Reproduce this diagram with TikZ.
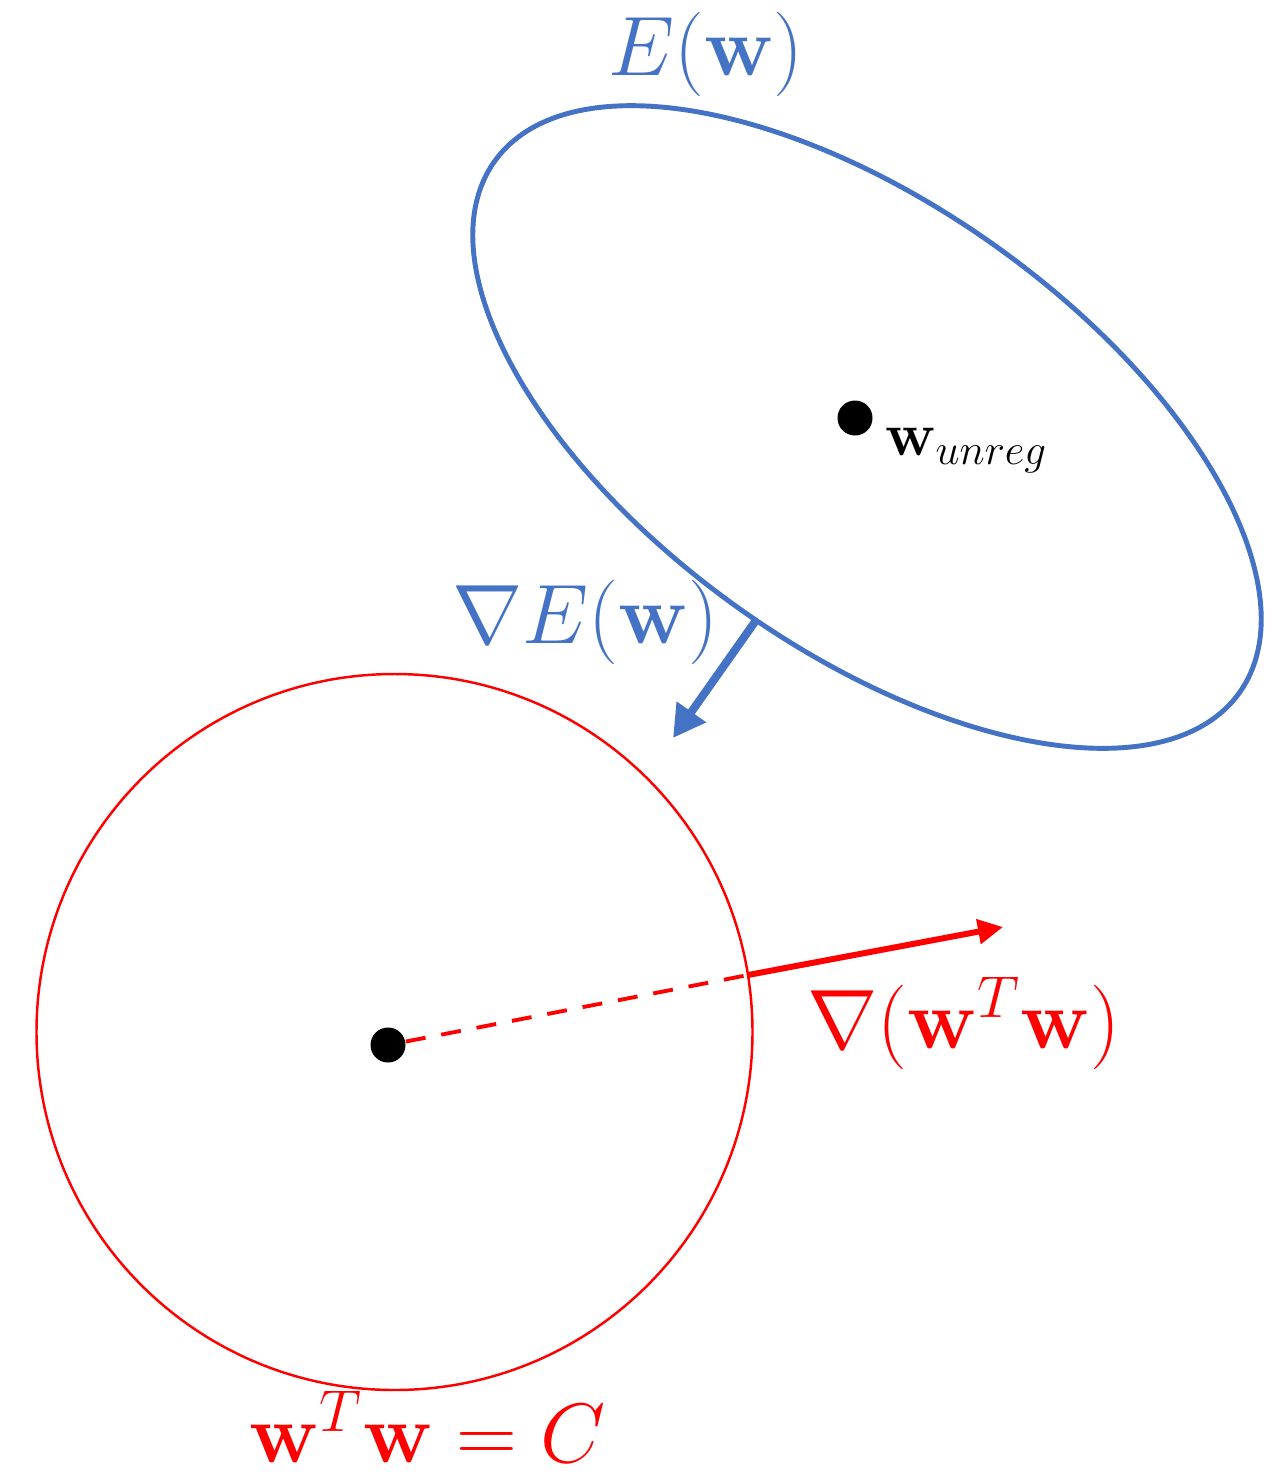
\documentclass[tikz,border=0pt]{standalone}
\usepackage{fix-cm}
\usetikzlibrary{arrows.meta}
\definecolor{offblue}{HTML}{4472C4}
\definecolor{offred}{HTML}{FF0000}
\tikzset{
  lbl/.style={inner sep=0pt, anchor=base, font=\fontsize{24}{28}\selectfont},
  smalllbl/.style={inner sep=0pt, anchor=base west, font=\fontsize{17.5}{21}\selectfont},
  blackdot/.style={circle, fill=black, inner sep=0pt, minimum size=0.35cm},
  bluearrow/.style={draw=offblue, line width=2.3pt, -{Triangle[length=0.32cm,width=0.34cm]}},
  redarrow/.style={draw=offred, line width=1.7pt, -{Triangle[length=0.25cm,width=0.24cm]}},
  reddash/.style={draw=offred, line width=1.1pt, dash pattern=on 0.2cm off 0.16cm},
}
\begin{document}
\begin{tikzpicture}
\useasboundingbox (0,0) rectangle (12.75,-14.83);
% ellipse E(w)
\draw[offblue, line width=1.4pt, rotate around={-35.5:(8.67,-4.27)}] (8.67,-4.27) ellipse [x radius=4.575, y radius=2.22];
% circle w^T w = C
\draw[offred, line width=0.7pt] (3.945,-10.32) circle [radius=3.58];
% dots
\node[blackdot] (wu) at (8.55,-4.18) {};
\node[blackdot] (w0) at (3.88,-10.45) {};
% labels
\node[lbl, text=offblue] (Ew) at (7.06,-0.75) {$E(\mathbf{w})$};
\node[lbl, text=offblue] (gE) at (5.85,-6.43) {$\nabla E(\mathbf{w})$};
\node[lbl, text=offred] (gw) at (9.64,-10.48) {$\nabla(\mathbf{w}^T\mathbf{w})$};
\node[lbl, text=offred] (cons) at (4.28,-14.62) {$\mathbf{w}^T\mathbf{w}=C$};
\node[smalllbl] (wul) at (8.85,-4.55) {$\mathbf{w}_{unreg}$};
% connectors
\coordinate (eb) at (7.555,-6.21);
\coordinate (et) at (6.73,-7.38);
\draw[bluearrow] (eb) -- (et);
\coordinate (ce) at (7.48,-9.75);
\coordinate (rt) at (10.03,-9.27);
\draw[reddash] (w0) -- (ce);
\draw[redarrow] (ce) -- (rt);
\end{tikzpicture}
\end{document}
